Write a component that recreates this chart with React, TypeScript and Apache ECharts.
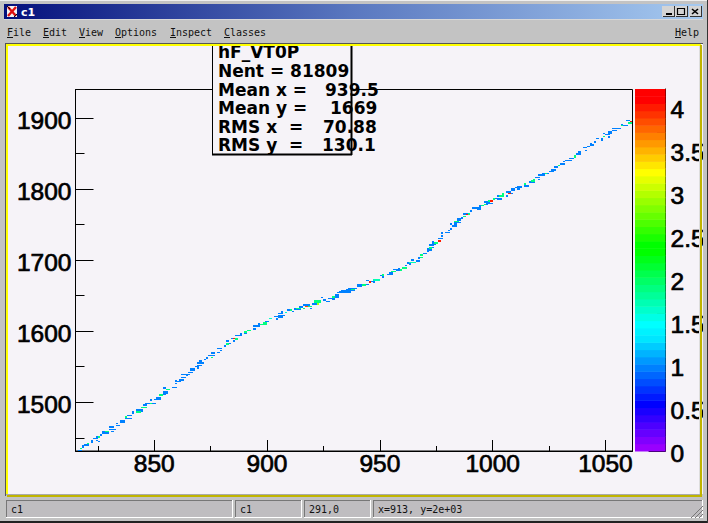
import React, { useEffect, useRef } from "react";
import * as echarts from "echarts";

// axis ranges
const xMin = 815.1, xMax = 1062;
const yMin = 1431.4, yMax = 1940;
const zMax = 4.204;
// tick values
const xMajor = [850, 900, 950, 1000, 1050];
const xMinor = [825, 875, 925, 975, 1025];
const yMajor = [1500, 1600, 1700, 1800, 1900];
const yMinor = [1450, 1550, 1650, 1750, 1850];
const zLabels = [0, 0.5, 1, 1.5, 2, 2.5, 3, 3.5, 4];
const zMinor = [0.1,0.2,0.3,0.4,0.6,0.7,0.8,0.9,1.1,1.2,1.3,1.4,1.6,1.7,1.8,1.9,2.1,2.2,2.3,2.4,2.6,2.7,2.8,2.9,3.1,3.2,3.3,3.4,3.6,3.7,3.8,3.9,4.1];
// colour palette, bottom to top
const palette = [
  "#9900ff","#8000ff","#6600ff","#4d00ff","#3300ff","#1a00ff","#0000ff","#001aff","#0033ff","#004dff",
  "#0066ff","#0080ff","#0099ff","#00b3ff","#00ccff","#00e6ff","#00f2ff","#00ffff","#00ffe6","#00ffcc",
  "#00ffb3","#00ff99","#00ff80","#00ff66","#00ff4d","#00ff33","#00ff1a","#00ff00","#00ff00","#1aff00",
  "#33ff00","#4dff00","#66ff00","#80ff00","#99ff00","#b3ff00","#ccff00","#e6ff00","#ffff00","#ffe600",
  "#ffcc00","#ffb300","#ff9900","#ff8000","#ff6600","#ff4d00","#ff3300","#ff1a00","#ff0000","#ff0000",
];
const zBands = palette.map((_, i) => i);

// histogram runs: [first x bin, number of x bins, y, z]
const runsLow = [
  [816,2,1432,1],[817,1,1435,1.9],[818,1,1437,1],[818,1,1439,1],[819,2,1440,1],[820,1,1442,1.9],[822,1,1444,1],[822,1,1446,1],
  [823,2,1449,1],[824,2,1451,1],[825,1,1451,1.9],[824,1,1446,1],[825,1,1445,1],[826,1,1454,1],[827,3,1457,1],[827,2,1459,1],
  [828,2,1459,1.9],[830,3,1462,1],[830,2,1465,1],[831,1,1459,1],[833,2,1467,1],[833,1,1470,1],[835,2,1472,1],[835,2,1474,1],
  [837,3,1477,1],[838,2,1481,1],[837,1,1479,1.9],[840,1,1484,1],[840,1,1486,1],[842,3,1489,1],[843,2,1487,1],[842,2,1486,1.9],
  [844,3,1493,1.9],[845,2,1496,1],[846,5,1498,1],[848,1,1498,1.9],[848,1,1503,1],[850,1,1504,1],[851,2,1506,1],[851,2,1504,1],
  [852,2,1510,1.9],[854,1,1511,1],[854,2,1515,1],[854,2,1513,1],[855,2,1518,1.9],[854,1,1520,1],[858,2,1521,1],[859,1,1526,1],
  [860,2,1529,1],[859,1,1530,1],[861,2,1531,1],[862,2,1535,1],[862,4,1539,1],[864,1,1538,1],[865,2,1542,1],[866,2,1545,1],
  [866,2,1547,1],[868,2,1550,1],[869,1,1548,1],[869,2,1552,1],[869,3,1555,1],[870,1,1558,1],[872,1,1560,1],[873,1,1562,1],
  [875,1,1563,1.9],[874,3,1566,1],[875,2,1569,1],[878,1,1570,1],[879,1,1573,1],[878,2,1576,1],[881,1,1579,1],[882,1,1582,1.9],
  [882,2,1583,1],[882,1,1586,1],[884,2,1590,1],[885,1,1590,4],[886,1,1589,1.9],[885,1,1586,1],[886,3,1594,1],[888,1,1596,1],
  [890,1,1597,1],[890,1,1599,1.9],[891,2,1601,1.9],[894,1,1603,1],[894,3,1607,1],[896,1,1610,1],[897,1,1609,1.9],[898,2,1612,1.9],
  [898,2,1610,1.9],[899,2,1614,1],
];
const runsMid = [
  [901,1,1618,1.6],[904,1,1617,1],[903,2,1621,1],[905,2,1622,1],[905,2,1620,1],[907,1,1622,1],[905,2,1625,1],[906,1,1627,1],
  [908,1,1626,1.6],[909,1,1630,1],[910,1,1630,1.9],[911,1,1628,1],[912,3,1631,1],[913,2,1632,1.9],[914,2,1634,1],[916,1,1632,1.9],
  [919,1,1632,1],[916,3,1637,1],[918,2,1635,1.9],[917,1,1635,3.8],[920,3,1638,1],[922,1,1638,3],[921,3,1641,1.9],[921,3,1643,1.9],
  [924,1,1647,1],[925,1,1644,1],[926,2,1642,1],[927,2,1646,1],[929,1,1648,1.9],[929,1,1645,1],[930,2,1651,1],[931,1,1654,1],
  [930,2,1648,1],[932,5,1655,1],[933,2,1657,1],[935,4,1658,1],[936,4,1660,1],[937,2,1659,1.9],[940,2,1663,1],[940,2,1665,1],
  [942,2,1665,1.9],[944,1,1666,1],[944,1,1671,1],[945,1,1669,4],[946,1,1670,1],[947,1,1669,1],[947,3,1672,1.7],[950,1,1678,1],
  [951,1,1679,1.9],[951,1,1676,1],[953,3,1680,1],[954,2,1682,1],[955,2,1684,1.9],[956,1,1687,1],[957,3,1686,1],[959,1,1686,1.9],
  [958,1,1688,1],[960,2,1689,1.9],[961,1,1692,1],[962,2,1696,1],[963,1,1694,1],[963,3,1697,1.7],[964,1,1700,1],[966,2,1699,1],
  [967,1,1703,1],[968,1,1704,1.9],[968,1,1707,1.9],[969,2,1709,1],[971,2,1716,1],[971,2,1714,1],[971,1,1713,1],[972,1,1717,1.9],
  [972,2,1721,1],[973,1,1718,1],[973,1,1724,1],[973,1,1726,1],[974,2,1724,1.9],[974,1,1722,1],[976,1,1727,4],[976,2,1730,1],
  [977,1,1734,1],[977,1,1739,1],[977,1,1737,1],[979,2,1739,1],[980,1,1742,1],[981,1,1744,1],[981,1,1751,1],[982,2,1747,1],
  [982,2,1749,1],[983,1,1751,1],[983,3,1753,1],[983,2,1754,1.9],[984,2,1756,1],[984,2,1758,1],[986,1,1759,1],[987,1,1761,1.9],
  [988,1,1764,4],[987,2,1765,1],[989,1,1765,1.9],
];
const runsHigh = [
  [990,1,1769,1],[991,2,1773,1],[993,2,1774,1],[993,2,1772,1],[994,1,1776,1],[995,1,1777,1.9],[996,1,1778,1.9],[996,3,1782,1],
  [997,1,1779,1],[998,2,1780,1],[998,2,1783,1.9],[999,1,1783,4],[1000,1,1786,1.9],[1001,1,1787,1],[1002,2,1786,1],[1002,1,1790,1],
  [1003,2,1790,1.9],[1004,1,1793,1.9],[1006,1,1790,1],[1008,1,1794,1],[1007,1,1794,4],[1006,2,1796,1],[1008,2,1798,1],[1008,2,1800,1],
  [1010,1,1802,1],[1011,2,1803,1],[1011,1,1800,1],[1014,2,1804,1],[1014,1,1807,1.9],[1016,3,1810,1],[1017,2,1811,1.9],[1018,1,1813,1.9],
  [1019,2,1816,1],[1020,1,1813,1],[1020,3,1820,1],[1022,3,1822,1],[1023,1,1822,1.9],[1025,2,1825,1],[1026,2,1827,1],[1027,2,1830,1],
  [1027,2,1832,1],[1029,1,1833,1.9],[1030,2,1835,1],[1031,1,1839,1],[1032,3,1840,1],[1034,2,1843,1],[1036,1,1847,1.9],[1036,1,1845,1.9],
  [1037,2,1849,1],[1038,1,1852,1],[1040,2,1858,1],[1041,1,1854,1],[1042,1,1860,1],[1043,1,1864,1],[1043,2,1862,1],[1045,1,1866,1],
  [1046,1,1871,1],[1048,1,1871,1],[1048,1,1869,1],[1049,1,1874,1.9],[1049,1,1878,1],[1050,2,1877,1],[1051,1,1873,1],[1051,2,1879,1],
  [1051,2,1881,1],[1053,2,1882,1],[1053,2,1885,1],[1055,2,1885,1],[1057,1,1891,1],[1057,1,1889,1.9],[1058,2,1889,1],[1059,2,1896,1],
  [1060,2,1893,1.9],[1061,1,1895,4],
];

// stats box text
const statsLines = [
  { name: "hF_VT0P", value: "", vx: 0, base: 60 },
  { name: "Nent = 81809", value: "", vx: 0, base: 79 },
  { name: "Mean x =", value: "939.5", vx: 325, base: 98 },
  { name: "Mean y =", value: "1669", vx: 330, base: 116 },
  { name: "RMS x  =", value: "70.88", vx: 323, base: 135 },
  { name: "RMS y  =", value: "130.1", vx: 322, base: 153 },
];
const menuLeft = [
  { t: "File", x: 7 }, { t: "Edit", x: 43 }, { t: "View", x: 79 },
  { t: "Options", x: 115 }, { t: "Inspect", x: 170 }, { t: "Classes", x: 224 }, { t: "Help", x: 675 },
];
const statusCells = [
  { t: "c1", x: 6, w: 226 }, { t: "c1", x: 235, w: 66 }, { t: "291,0", x: 304, w: 66 }, { t: "x=913, y=2e+03", x: 373, w: 329 },
];

const GREY = "#c3c3c3";
const CANVAS = "#f6f3f8";
const tickFont = { fontFamily: "Liberation Sans", fontSize: 24.5, color: "#000", textBorderColor: "#000", textBorderWidth: 0.7 };
const mono = "DejaVu Sans Mono";

function rect(x: number, y: number, w: number, h: number, fill: any, z = 100) {
  return { type: "rect", z, silent: true, shape: { x, y, width: w, height: h }, style: { fill } };
}
function line(x1: number, y1: number, x2: number, y2: number, stroke: string, lineWidth = 1, z = 101) {
  return { type: "line", z, silent: true, shape: { x1, y1, x2, y2 }, style: { stroke, lineWidth } };
}
function label(text: string, x: number, y: number, fill = "#000", font = `10px ${mono}`, z = 102) {
  return { type: "text", z, silent: true, x, y, style: { text, fill, font, textVerticalAlign: "middle" } };
}

function chrome() {
  const els: any[] = [];
  // window surround
  els.push(rect(0, 0, 708, 43.5, GREY), rect(0, 494, 708, 29, GREY), rect(0, 0, 5, 523, GREY), rect(703, 0, 5, 523, GREY));
  els.push(rect(0, 0, 708, 1, "#efefef"), rect(0, 521, 708, 2, "#222"), rect(707, 0, 1, 523, "#333"));
  // canvas border
  els.push(rect(5, 43, 698, 1, "#555"), rect(5, 44, 696, 2, "#ffff00"), rect(5, 43, 1, 453, "#555"), rect(6, 45, 2, 450, "#ffff00"));
  els.push(rect(6, 494, 696, 1, "#aaa"), rect(7, 495, 695, 2, "#c0b400"), rect(700, 45, 2, 452, "#c0b400"), rect(699, 46, 1, 448, "#ddd"));
  // title bar
  els.push(rect(4, 4, 699, 15, { type: "linear", x: 0, y: 0, x2: 1, y2: 0, colorStops: [{ offset: 0, color: "#04107c" }, { offset: 0.5, color: "#5a78c0" }, { offset: 1, color: "#a6caf0" }] }));
  els.push(rect(4, 19, 699, 1, "#d8d8d8"));
  els.push(rect(7, 6, 10, 11, "#f4f4f4"), line(8, 7, 16, 16, "#e01010", 2.4), line(16, 7, 8, 16, "#e01010", 2.4), line(7, 6, 10, 9, "#111", 1), line(17, 14, 14, 17, "#111", 1));
  els.push(label("c1", 21, 12, "#fff", `bold 11px "DejaVu Sans"`));
  // title buttons
  for (const bx of [662, 675, 689]) {
    els.push(rect(bx, 6, 12, 11, "#d4d4d4"), rect(bx + 1, 16, 12, 1, "#333"), rect(bx + 12, 6, 1, 11, "#333"));
  }
  els.push(rect(666, 13, 6, 2, "#000"));
  els.push({ type: "rect", z: 101, silent: true, shape: { x: 677.5, y: 8.5, width: 7, height: 6 }, style: { fill: "none", stroke: "#000", lineWidth: 1.2 } });
  els.push(line(692, 9, 698, 14, "#000", 1.6), line(698, 9, 692, 14, "#000", 1.6));
  // menu
  for (const m of menuLeft) {
    els.push(label(m.t, m.x, 32, "#111"), line(m.x, 37.5, m.x + 6, 37.5, "#111", 1));
  }
  // status bar
  for (const c of statusCells) {
    els.push(rect(c.x, 500, c.w, 17, "#bfbdc0"), rect(c.x, 500, c.w, 1, "#777"), rect(c.x, 500, 1, 17, "#777"), rect(c.x, 517, c.w, 1, "#fff"), rect(c.x + c.w, 500, 1, 18, "#fff"));
    els.push(label(c.t, c.x + 5, 509, "#111"));
  }
  // resize grip
  for (const d of [4, 8, 12]) els.push(line(703 - d, 518, 703, 518 - d, "#777", 1));
  return els;
}

function statsBox() {
  const z = 50;
  const statFont = `bold 17px "DejaVu Sans"`;
  const els: any[] = [
    rect(212, 40, 139, 114, CANVAS, z),
    line(212.5, 40, 212.5, 154, "#000", 1, z + 1),
    line(212, 154.5, 352, 154.5, "#000", 2, z + 1),
    line(351.5, 40, 351.5, 155, "#000", 2, z + 1),
  ];
  for (const l of statsLines) {
    els.push({
      type: "text", z: z + 2, silent: true, x: 218, y: l.base,
      style: { text: l.name, fill: "#000", font: statFont, textVerticalAlign: "bottom", lineHeight: 17 },
    });
    if (l.value) {
      els.push({
        type: "text", z: z + 2, silent: true, x: l.vx, y: l.base,
        style: { text: l.value, fill: "#000", font: statFont, textVerticalAlign: "bottom", lineHeight: 17 },
      });
    }
  }
  return els;
}

export default function App() {
  const ref = useRef<HTMLDivElement>(null);
  useEffect(() => {
    document.body.style.margin = "0";
    const chart = echarts.init(ref.current!, undefined, { renderer: "svg" });
    const cells = [...runsLow, ...runsMid, ...runsHigh].slice().sort((a, b) => a[3] - b[3]);
    const step = zMax / palette.length;
    const colorOf = (z: number) => palette[Math.min(palette.length - 1, Math.floor(z / step))];
    chart.setOption({
      animation: false,
      backgroundColor: CANVAS,
      grid: [
        { left: 75.5, top: 89.5, width: 557, height: 361.5, show: true, borderColor: "#000", borderWidth: 1, backgroundColor: "transparent" },
        { left: 635, top: 89, width: 35.5, height: 362, show: false },
      ],
      xAxis: [
        {
          type: "value", gridIndex: 0, min: xMin, max: xMax, position: "bottom", splitLine: { show: false },
          axisLine: { show: true, onZero: false, lineStyle: { color: "#000", width: 1 } },
          axisTick: { show: true, inside: true, length: 11, customValues: xMajor, lineStyle: { color: "#000" } },
          axisLabel: { show: true, margin: 0, customValues: xMajor, formatter: (v: number) => String(v), ...tickFont },
        },
        {
          type: "value", gridIndex: 0, min: xMin, max: xMax, position: "bottom", splitLine: { show: false },
          axisLine: { show: false, onZero: false },
          axisTick: { show: true, inside: true, length: 5, customValues: xMinor, lineStyle: { color: "#000" } },
          axisLabel: { show: false },
        },
        { type: "value", gridIndex: 1, min: 0, max: 1, show: false },
      ],
      yAxis: [
        {
          type: "value", gridIndex: 0, min: yMin, max: yMax, position: "left", splitLine: { show: false },
          axisLine: { show: true, onZero: false, lineStyle: { color: "#000", width: 1 } },
          axisTick: { show: true, inside: true, length: 18, customValues: yMajor, lineStyle: { color: "#000" } },
          axisLabel: { show: true, margin: 4, customValues: yMajor, formatter: (v: number) => String(v), ...tickFont, verticalAlign: "top", lineHeight: 5 },
        },
        {
          type: "value", gridIndex: 0, min: yMin, max: yMax, position: "left", splitLine: { show: false },
          axisLine: { show: false, onZero: false },
          axisTick: { show: true, inside: true, length: 9, customValues: yMinor, lineStyle: { color: "#000" } },
          axisLabel: { show: false },
        },
        {
          type: "value", gridIndex: 1, min: 0, max: zMax, position: "right", splitLine: { show: false },
          axisLine: { show: true, onZero: false, lineStyle: { color: "#000", width: 1 } },
          axisTick: { show: true, inside: true, length: 17, customValues: zLabels, lineStyle: { color: "#000" } },
          axisLabel: { show: true, margin: 5, customValues: zLabels, formatter: (v: number) => String(v), ...tickFont, verticalAlign: "top", lineHeight: 5 },
        },
        {
          type: "value", gridIndex: 1, min: 0, max: zMax, position: "right", splitLine: { show: false },
          axisLine: { show: false, onZero: false },
          axisTick: { show: true, inside: true, length: 8.5, customValues: zMinor, lineStyle: { color: "#000" } },
          axisLabel: { show: false },
        },
      ],
      series: [
        {
          type: "custom", xAxisIndex: 0, yAxisIndex: 0, clip: true, data: cells, encode: { x: 0, y: 2 },
          renderItem: (_p: any, api: any) => {
            const x = api.value(0), n = api.value(1), y = api.value(2), z = api.value(3);
            const a = api.coord([x, y + 1]);
            const b = api.coord([x + n, y - 1]);
            const px = Math.round(a[0]), py = Math.round(a[1]);
            return {
              type: "rect",
              shape: { x: px, y: py, width: Math.max(2, Math.round(b[0]) - px), height: Math.max(1, Math.round(b[1]) - py) },
              style: { fill: colorOf(z) },
            };
          },
        },
        {
          type: "custom", xAxisIndex: 2, yAxisIndex: 2, data: zBands.map((i) => [i]), encode: { y: 0 },
          renderItem: (_p: any, api: any) => {
            const i = api.value(0);
            const a = api.coord([0, (i + 1) * step]);
            const b = api.coord([1, i * step]);
            return { type: "rect", shape: { x: a[0], y: a[1], width: b[0] - a[0], height: b[1] - a[1] + 0.5 }, style: { fill: palette[i] } };
          },
        },
      ],
      graphic: { elements: [...statsBox(), ...chrome()] },
    });
    return () => chart.dispose();
  }, []);
  return <div ref={ref} style={{ position: "absolute", left: 0, top: 0, width: 708, height: 523 }} />;
}
